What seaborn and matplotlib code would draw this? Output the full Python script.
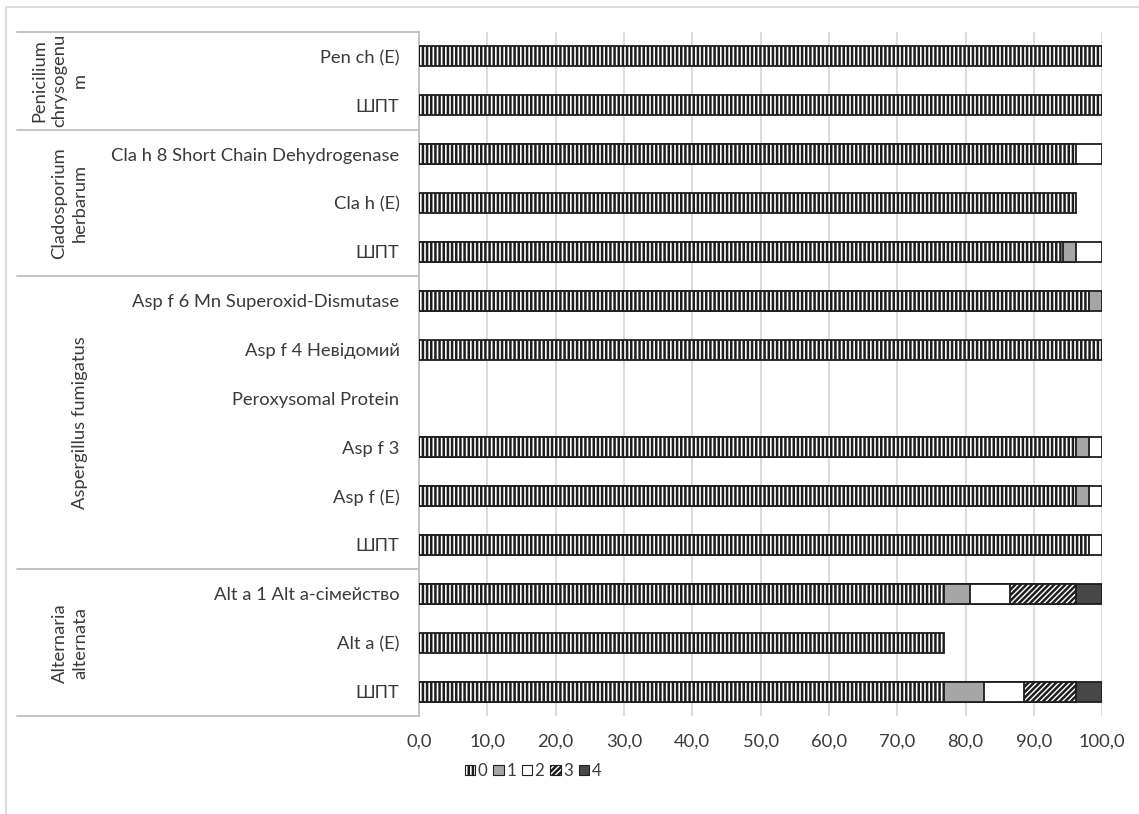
import matplotlib
matplotlib.use("Agg")
import matplotlib.pyplot as plt
from matplotlib.patches import Patch
from matplotlib.lines import Line2D
from matplotlib.ticker import FixedLocator, FuncFormatter
import matplotlib.transforms as mtransforms
import numpy as np
import pandas as pd
import seaborn as sns

# ---- data (percent of patients by response class 0..4) ----
groups = ["Penicilium\nchrysogenu\nm", "Cladosporium\nherbarum",
          "Aspergillus fumigatus", "Alternaria\nalternata"]
group_sizes = [2, 3, 6, 3]

row_labels = [
    "Pen ch (E)", "ШПТ",
    "Cla h 8 Short Chain Dehydrogenase", "Cla h (E)", "ШПТ",
    "Asp f 6 Mn Superoxid-Dismutase", "Asp f 4 Невідомий", "Peroxysomal Protein",
    "Asp f 3", "Asp f (E)", "ШПТ",
    "Alt a 1 Alt a-сімейство", "Alt a (E)", "ШПТ",
]

class_names = ["0", "1", "2", "3", "4"]
cls0 = [100.0, 100.0, 96.2, 96.2, 94.2, 98.1, 100.0, 0.0, 96.2, 96.2, 98.1, 76.9, 76.9, 76.9]
cls1 = [0.0, 0.0, 0.0, 0.0, 1.9, 1.9, 0.0, 0.0, 1.9, 1.9, 0.0, 3.8, 0.0, 5.8]
cls2 = [0.0, 0.0, 3.8, 0.0, 3.8, 0.0, 0.0, 0.0, 1.9, 1.9, 1.9, 5.8, 0.0, 5.8]
cls3 = [0.0, 0.0, 0.0, 0.0, 0.0, 0.0, 0.0, 0.0, 0.0, 0.0, 0.0, 9.6, 0.0, 7.7]
cls4 = [0.0, 0.0, 0.0, 0.0, 0.0, 0.0, 0.0, 0.0, 0.0, 0.0, 0.0, 3.8, 0.0, 3.8]

x_ticks = [0, 10, 20, 30, 40, 50, 60, 70, 80, 90, 100]

# ---- styling ----
sns.set_style("white")
plt.rcParams["font.family"] = ["Lato", "DejaVu Sans"]
plt.rcParams["hatch.color"] = "#1e1e1e"
plt.rcParams["hatch.linewidth"] = 1.8

TEXT = "#3a3a3a"
EDGE = "#1e1e1e"
GRID = "#d9d9d9"
FS = 13.2

styles = [
    dict(color="white", hatch="||||"),
    dict(color="#a6a6a6", hatch=None),
    dict(color="white", hatch=None),
    dict(color="white", hatch="//////"),
    dict(color="#474747", hatch=None),
]

keys = [f"r{i}" for i in range(len(row_labels))]
layers = np.array([cls0, cls1, cls2, cls3, cls4])
cum = np.cumsum(layers, axis=0)

fig = plt.figure(figsize=(11.39, 8.14), dpi=100)
ax = fig.add_axes([0.3679, 0.1204, 0.5998, 0.8403])

# stacked bars drawn back to front: each layer spans 0..cumulative end
for k in range(len(class_names) - 1, -1, -1):
    df = pd.DataFrame({"row": keys, "end": cum[k], "seg": layers[k]})
    df = df[df["seg"] > 0]
    st = styles[k]
    sns.barplot(data=df, x="end", y="row", order=keys, orient="y", ax=ax,
                color=st["color"], saturation=1, width=0.41,
                edgecolor=EDGE, linewidth=1.3, hatch=st["hatch"],
                errorbar=None, zorder=3)
    for p in ax.patches[-len(df):]:
        p.set_facecolor(st["color"])

ax.set_xlim(0, 100)
ax.set_ylim(len(keys) - 0.5, -0.5)
ax.xaxis.set_major_locator(FixedLocator(x_ticks))
ax.xaxis.set_major_formatter(FuncFormatter(lambda v, _: f"{v:.1f}".replace(".", ",")))
ax.set_yticks(range(len(keys)))
ax.set_yticklabels(row_labels)
ax.set_xlabel("")
ax.set_ylabel("")
ax.tick_params(axis="both", length=0, labelsize=FS, colors=TEXT)
ax.tick_params(axis="y", pad=14)
ax.tick_params(axis="x", pad=13)
ax.grid(axis="x", color=GRID, linewidth=1.3, zorder=0)
ax.set_axisbelow(True)
for side in ["top", "right", "bottom"]:
    ax.spines[side].set_visible(False)
ax.spines["left"].set_color("#bfbfbf")
ax.spines["left"].set_linewidth(1.3)

# group separators and group names on the left
trans = mtransforms.blended_transform_factory(ax.transAxes, ax.transData)
bounds = np.concatenate([[0], np.cumsum(group_sizes)]) - 0.5
for b in bounds:
    ax.add_line(Line2D([-0.588, 0], [b, b], transform=trans, color="#bfbfbf",
                       linewidth=1.3, clip_on=False))
for name, lo, hi in zip(groups, bounds[:-1], bounds[1:]):
    ax.text(-0.4844, (lo + hi) / 2, name, transform=trans, rotation=90,
            ha="right", va="center", multialignment="center",
            fontsize=FS, color=TEXT, linespacing=1.35)

# legend
handles = [Patch(facecolor=st["color"], edgecolor=EDGE, hatch=st["hatch"],
                 linewidth=0.8) for st in styles]
fig.legend(handles, class_names, loc="center left", bbox_to_anchor=(465 / 1139, 1 - 771 / 814),
           ncol=5, frameon=False, fontsize=12.2, handlelength=0.6, handleheight=0.6,
           handletextpad=0.15, columnspacing=0.35, borderpad=0, borderaxespad=0,
           labelcolor=TEXT)

# outer chart border
fig.add_artist(Line2D([6 / 1139, 1.0], [1 - 7 / 814, 1 - 7 / 814],
                      transform=fig.transFigure, color=GRID, linewidth=1.3))
fig.add_artist(Line2D([6 / 1139, 6 / 1139], [0, 1 - 7 / 814],
                      transform=fig.transFigure, color=GRID, linewidth=1.3))

fig.savefig("out.png", dpi=100)
